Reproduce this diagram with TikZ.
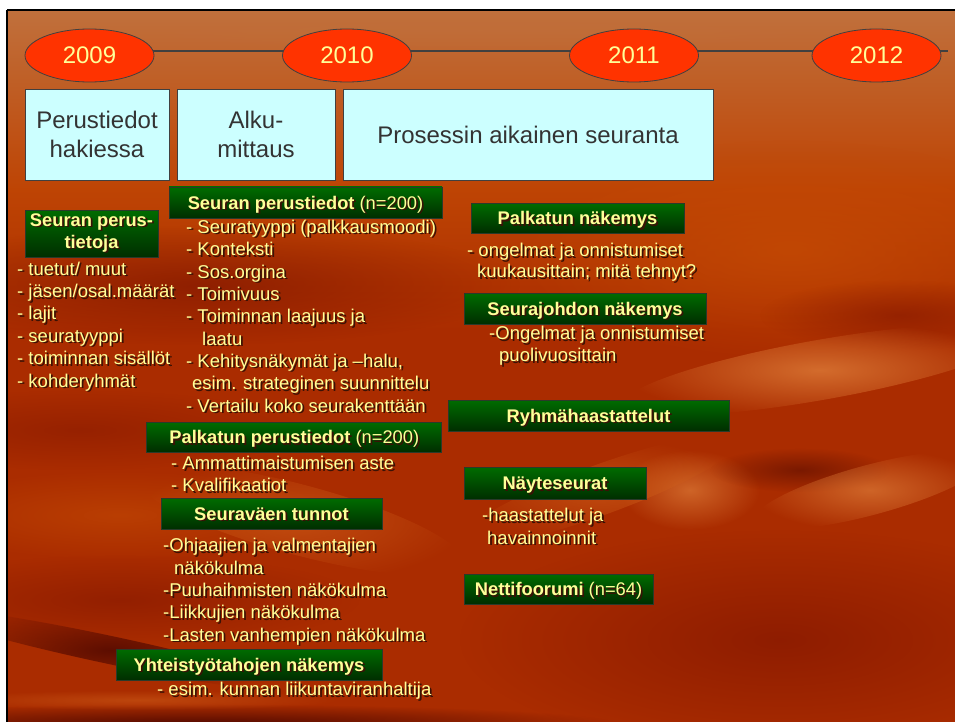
\documentclass[tikz,border=0pt]{standalone}
\usepackage{fontspec}
\setmainfont{Liberation Sans}
\usetikzlibrary{fadings,shapes.geometric}
\definecolor{ellred}{HTML}{FF3300}
\definecolor{txty}{HTML}{FFFF99}
\definecolor{cyanbox}{HTML}{CCFFFF}
\definecolor{darkg}{HTML}{333333}
\definecolor{edge}{HTML}{404040}
\definecolor{gedge}{HTML}{2A3A2A}
\definecolor{gtop}{HTML}{006C00}
\definecolor{gbot}{HTML}{002E00}
\definecolor{shad}{HTML}{3A1206}
\definecolor{bgtop}{HTML}{C0703C}
\definecolor{bgmid}{HTML}{BE4404}
\definecolor{bgbase}{HTML}{AA2C00}
\definecolor{bgorange}{HTML}{C44A04}
\definecolor{bgdark}{HTML}{4A0600}
\definecolor{bgdeep}{HTML}{7E1400}
\definecolor{bgred}{HTML}{8A1A00}
\definecolor{bglight}{HTML}{D0601A}
\definecolor{bgpale}{HTML}{DE7C38}
\tikzfading[name=fuzzy, inner color=transparent!0, outer color=transparent!100]
\newcommand\shd[1]{\makebox[0pt][l]{\hspace{1.8pt}\raisebox{-1.8pt}{\textcolor{shad}{#1}}}#1}
\tikzset{
  yearell/.style={ellipse, draw=edge, line width=0.8pt, fill=ellred, text=txty,
    minimum width=129pt, minimum height=53pt, inner sep=0pt, font=\fontsize{24}{28}\selectfont},
  phasebox/.style={draw=edge, line width=0.9pt, fill=cyanbox, text=darkg, minimum height=91pt,
    inner sep=0pt, align=center, font=\fontsize{24}{28.4}\selectfont},
  gbox/.style={draw=gedge, line width=0.9pt, top color=gtop, bottom color=gbot, text=txty,
    inner sep=0pt, align=center, font=\fontsize{18.3}{22}\selectfont\bfseries},
  gline/.style={gbox, text height=13pt, text depth=0pt},
  lt/.style={text=txty, inner sep=0pt, anchor=base west, font=\fontsize{18.5}{22}\selectfont},
  blob/.style={path fading=fuzzy, fit fading=true},
  timeline/.style={draw=edge, line width=2.5pt},
}
\begin{document}
\begin{tikzpicture}[x=1pt, y=-1pt]
\useasboundingbox (0,0) rectangle (955,722);
% background
\fill[white] (0,0) rectangle (955,722);
\begin{scope}
\clip (8,11) rectangle (955,722);
\fill[bgbase] (8,11) rectangle (955,722);
\shade[top color=bgtop, bottom color=bgmid] (8,11) rectangle (955,190);
\shade[top color=bgmid, bottom color=bgbase] (8,189) rectangle (955,330);
\fill[bgorange, blob, opacity=0.8] (790,250) ellipse [x radius=280pt, y radius=110pt];
\fill[bgdeep, blob, opacity=0.65] (200,285) ellipse [x radius=320pt, y radius=60pt];
\fill[bgred, blob, opacity=0.6] (80,430) ellipse [x radius=220pt, y radius=40pt];
\fill[bgorange, blob, opacity=0.6] (120,515) ellipse [x radius=220pt, y radius=45pt];
\fill[bglight, blob, opacity=0.6, rotate around={-15:(300,520)}] (300,520) ellipse [x radius=170pt, y radius=35pt];
\fill[bgred, blob, opacity=0.7] (120,600) ellipse [x radius=240pt, y radius=45pt];
\fill[bgdark, blob, opacity=0.8, rotate around={-12:(110,650)}] (110,650) ellipse [x radius=190pt, y radius=14pt];
\fill[bgdark, blob, opacity=0.9] (200,724) ellipse [x radius=420pt, y radius=20pt];
\fill[bglight, blob, opacity=0.5] (140,700) ellipse [x radius=200pt, y radius=10pt];
\fill[bgred, blob, opacity=0.7] (900,315) ellipse [x radius=140pt, y radius=35pt];
\fill[bgpale, blob, opacity=0.8, rotate around={10:(820,370)}] (820,370) ellipse [x radius=200pt, y radius=30pt];
\fill[bgpale, blob, opacity=0.7] (690,490) ellipse [x radius=70pt, y radius=40pt];
\fill[bgdark, blob, opacity=0.5] (800,470) ellipse [x radius=90pt, y radius=22pt];
\fill[bgpale, blob, opacity=0.7, rotate around={15:(870,490)}] (870,490) ellipse [x radius=120pt, y radius=25pt];
\fill[bglight, blob, opacity=0.6, rotate around={20:(600,490)}] (600,490) ellipse [x radius=150pt, y radius=25pt];
\fill[bgred, blob, opacity=0.85] (780,640) ellipse [x radius=320pt, y radius=110pt];
\fill[bgtop, blob, opacity=0.4] (480,30) ellipse [x radius=480pt, y radius=22pt];
\end{scope}
\draw[black, line width=2pt] (7,10) -- (955,10);
\draw[black, line width=1.5pt] (7,10) -- (7,722);
% timeline
\coordinate (tla) at (89.5,51);
\coordinate (tlb) at (948,51);
\draw[timeline] (tla) -- (tlb);
\node[yearell] (y2009) at (89.5,55.5) {2009};
\node[yearell] (y2010) at (347,55.5) {2010};
\node[yearell] (y2011) at (634,55.5) {2011};
\node[yearell] (y2012) at (876.5,55.5) {2012};
% phases
\node[phasebox, minimum width=144pt] (ph1) at (97,134.5) {Perustiedot\\hakiessa};
\node[phasebox, minimum width=158pt] (ph2) at (256,134.5) {Alku-\\mittaus};
\node[phasebox, minimum width=370pt] (ph3) at (528,134.5) {Prosessin aikainen seuranta};
% green headings
\node[gline, minimum width=273pt, minimum height=31pt] (gSP) at (305.5,202.5) {\shd{Seuran perustiedot {\mdseries(n=200)}}};
\node[gbox, minimum width=133pt, minimum height=47pt] (gSPT) at (91.5,233.5) {\shd{Seuran perus-}\\\shd{tietoja}};
\node[gline, minimum width=295pt, minimum height=30pt] (gPP) at (294.3,437) {\shd{Palkatun perustiedot {\mdseries(n=200)}}};
\node[gline, minimum width=221pt, minimum height=31pt] (gST) at (271.5,513.5) {\shd{Seuraväen tunnot}};
\node[gline, minimum width=266pt, minimum height=31pt] (gYN) at (249,664.5) {\shd{Yhteistyötahojen näkemys}};
\node[gline, minimum width=213pt, minimum height=30pt] (gPN) at (577.5,218) {\shd{Palkatun näkemys}};
\node[gline, minimum width=242pt, minimum height=31pt] (gSN) at (585,308.5) {\shd{Seurajohdon näkemys}};
\node[gline, minimum width=281pt, minimum height=31pt] (gRH) at (588.5,415.5) {\shd{Ryhmähaastattelut}};
\node[gline, minimum width=182pt, minimum height=32pt] (gNS) at (555,483) {\shd{Näyteseurat}};
\node[gline, minimum width=189pt, minimum height=30pt] (gNF) at (558.5,589) {\shd{Nettifoorumi {\mdseries(n=64)}}};
% left list
\node[lt] (l1) at (17,275) {\shd{- tuetut/ muut}};
\node[lt] (l2) at (17,297.7) {\shd{- jäsen/osal.määrät}};
\node[lt] (l3) at (17,319.5) {\shd{- lajit}};
\node[lt] (l4) at (17,342) {\shd{- seuratyyppi}};
\node[lt] (l5) at (17,364.5) {\shd{- toiminnan sisällöt}};
\node[lt] (l6) at (17,387) {\shd{- kohderyhmät}};
% middle list
\node[lt] (m1) at (186,233) {\shd{- Seuratyyppi (palkkausmoodi)}};
\node[lt] (m2) at (186,255.5) {\shd{- Konteksti}};
\node[lt] (m3) at (186,278) {\shd{- Sos.orgina}};
\node[lt] (m4) at (186,300) {\shd{- Toimivuus}};
\node[lt] (m5) at (186,322.5) {\shd{- Toiminnan laajuus ja}};
\node[lt] (m6) at (202,345) {\shd{laatu}};
\node[lt] (m7) at (186,367) {\shd{- Kehitysnäkymät ja –halu,}};
\node[lt] (m8) at (192,389.5) {\shd{esim. strateginen suunnittelu}};
\node[lt] (m9) at (186,412) {\shd{- Vertailu koko seurakenttään}};
% palkatun list
\node[lt] (p1) at (171,469.3) {\shd{- Ammattimaistumisen aste}};
\node[lt] (p2) at (171,491.5) {\shd{- Kvalifikaatiot}};
% seuravaen list
\node[lt] (s1) at (163,551.7) {\shd{-Ohjaajien ja valmentajien}};
\node[lt] (s2) at (174,574) {\shd{näkökulma}};
\node[lt] (s3) at (163,596.3) {\shd{-Puuhaihmisten näkökulma}};
\node[lt] (s4) at (163,618.7) {\shd{-Liikkujien näkökulma}};
\node[lt] (s5) at (163,641) {\shd{-Lasten vanhempien näkökulma}};
\node[lt] (t1) at (157,695.3) {\shd{- esim. kunnan liikuntaviranhaltija}};
% right lists
\node[lt] (r1) at (467,256.7) {\shd{- ongelmat ja onnistumiset}};
\node[lt] (r2) at (477,277.3) {\shd{kuukausittain; mitä tehnyt?}};
\node[lt] (r3) at (489,339.3) {\shd{-Ongelmat ja onnistumiset}};
\node[lt] (r4) at (499,361.7) {\shd{puolivuosittain}};
\node[lt] (r5) at (482,521.7) {\shd{-haastattelut ja}};
\node[lt] (r6) at (487,544) {\shd{havainnoinnit}};
\end{tikzpicture}
\end{document}
